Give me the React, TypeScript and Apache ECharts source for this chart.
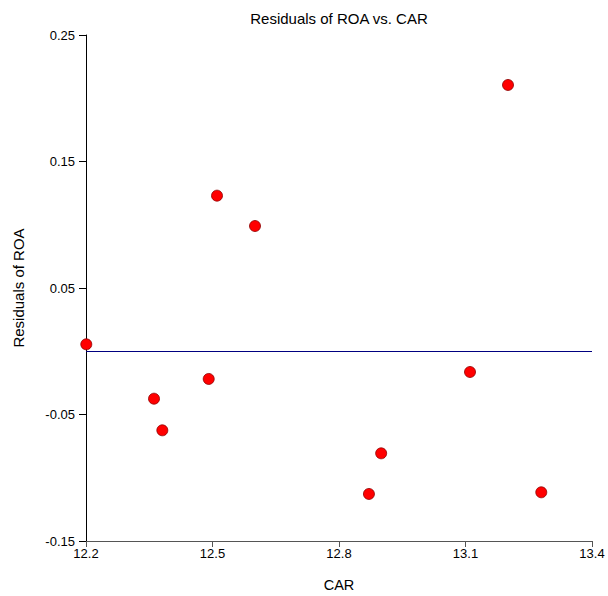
import React, { useEffect, useRef } from "react";
import * as echarts from "echarts";

const carValues = [12.2007, 12.5107, 12.6008, 12.491, 12.3613, 12.381, 12.871, 12.9, 13.1107, 13.2008, 13.2797];
const residualValues = [0.0055, 0.123, 0.099, -0.0219, -0.0375, -0.0625, -0.1128, -0.0807, -0.0164, 0.2105, -0.1115];
const xTicks = [12.2, 12.5, 12.8, 13.1, 13.4];
const yTicks = [-0.15, -0.05, 0.05, 0.15, 0.25];
const titleText = "Residuals of ROA vs. CAR";
const xName = "CAR";
const yName = "Residuals of ROA";

export default function App() {
  const ref = useRef<HTMLDivElement>(null);
  useEffect(() => {
    if (!ref.current) return;
    const chart = echarts.init(ref.current, null, { renderer: "svg" });
    const font = "Liberation Sans, Arial, sans-serif";
    chart.setOption({
      animation: false,
      backgroundColor: "#fff",
      textStyle: { fontFamily: font },
      grid: { left: 86, right: 16, top: 35, bottom: 55, containLabel: false, outerBoundsMode: "none" },
      graphic: [
        {
          type: "text",
          x: 339,
          y: 18,
          style: {
            text: titleText,
            fontFamily: font,
            fontSize: 15,
            fill: "#000",
            align: "center",
            verticalAlign: "middle",
          },
        },
      ],
      xAxis: {
        type: "value",
        min: 12.2,
        max: 13.4,
        name: xName,
        nameLocation: "middle",
        nameGap: 36,
        nameTextStyle: { fontFamily: font, fontSize: 14.5, color: "#000" },
        splitLine: { show: false },
        axisLine: { show: true, onZero: false, lineStyle: { color: "#555", width: 1 } },
        axisTick: { show: true, length: 6, lineStyle: { color: "#555" }, customValues: xTicks },
        axisLabel: {
          customValues: xTicks,
          formatter: (v: number) => v.toFixed(1),
          fontFamily: font,
          fontSize: 13,
          color: "#000",
          margin: 6,
        },
      },
      yAxis: {
        type: "value",
        min: -0.15,
        max: 0.25,
        name: yName,
        nameLocation: "middle",
        nameGap: 60,
        nameTextStyle: { fontFamily: font, fontSize: 15, color: "#000" },
        splitLine: { show: false },
        axisLine: { show: true, onZero: false, lineStyle: { color: "#000", width: 1 } },
        axisTick: { show: true, length: 7, lineStyle: { color: "#000" }, customValues: yTicks },
        axisLabel: {
          customValues: yTicks,
          formatter: (v: number) => v.toFixed(2),
          fontFamily: font,
          fontSize: 13,
          color: "#000",
          margin: 11,
        },
      },
      series: [
        {
          type: "scatter",
          data: carValues.map((x, i) => [x, residualValues[i]]),
          symbolSize: 11,
          itemStyle: { color: "#ff0000", borderColor: "#8b0000", borderWidth: 0.8, opacity: 1 },
          markLine: {
            silent: true,
            symbol: ["none", "none"],
            label: { show: false },
            lineStyle: { color: "#000080", width: 1, type: "solid" },
            data: [{ yAxis: 0 }],
          },
        },
      ],
    });
    return () => chart.dispose();
  }, []);
  return (
    <div
      ref={ref}
      style={{ position: "fixed", left: 0, top: 0, width: 608, height: 596, background: "#fff" }}
    />
  );
}
